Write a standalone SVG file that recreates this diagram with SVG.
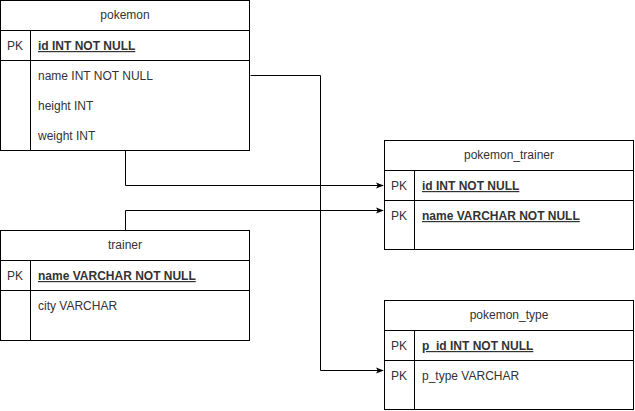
<svg xmlns="http://www.w3.org/2000/svg" width="635" height="411" viewBox="0 0 635 411">
<defs>
<marker id="arr" viewBox="0 0 10 10" refX="9" refY="5" markerWidth="8" markerHeight="8" markerUnits="userSpaceOnUse" orient="auto">
<path d="M0,1 L10,5 L0,9 L2.5,5 Z" fill="#000"/>
</marker>
</defs>
<style>
.box{fill:#fff;stroke:#000;stroke-width:1}
.ln{stroke:#000;stroke-width:1;fill:none}
text{font-family:"Liberation Sans",Arial,sans-serif;font-size:12px;fill:#333}
.h{text-anchor:middle}
.pk{font-weight:bold;text-decoration:underline}
.c{stroke:#000;stroke-width:1;fill:none;marker-end:url(#arr)}
</style>
<rect width="635" height="411" fill="#fff"/>
<g id="connectors">
<path class="c" d="M125.5,150.5 V185.5 H383"/>
<path class="c" d="M250.5,75.5 H320.5 V370.5 H383"/>
<path class="c" d="M125.5,230.5 V210.5 H383"/>
</g>
<g id="pokemon">
<rect class="box" x="0.5" y="0.5" width="249" height="150"/>
<path class="ln" d="M0.5,30.5 H249.5 M0.5,60.5 H249.5 M30.5,30.5 V150.5"/>
<text class="h" x="125" y="19">pokemon</text>
<text x="7" y="50">PK</text>
<text class="pk" x="38" y="50">id INT NOT NULL</text>
<text x="38" y="80">name INT NOT NULL</text>
<text x="38" y="110">height INT</text>
<text x="38" y="140">weight INT</text>
</g>
<g id="trainer">
<rect class="box" x="0.5" y="230.5" width="249" height="110"/>
<path class="ln" d="M0.5,260.5 H249.5 M0.5,290.5 H249.5 M30.5,260.5 V340.5"/>
<text class="h" x="125" y="249">trainer</text>
<text x="7" y="280">PK</text>
<text class="pk" x="38" y="280">name VARCHAR NOT NULL</text>
<text x="38" y="310">city VARCHAR</text>
</g>
<g id="pokemon_trainer">
<rect class="box" x="384.5" y="140.5" width="249" height="109"/>
<path class="ln" d="M384.5,170.5 H633.5 M384.5,200.5 H633.5 M414.5,170.5 V249.5"/>
<text class="h" x="509" y="159">pokemon_trainer</text>
<text x="391" y="190">PK</text>
<text class="pk" x="422" y="190">id INT NOT NULL</text>
<text x="391" y="220">PK</text>
<text class="pk" x="422" y="220">name VARCHAR NOT NULL</text>
</g>
<g id="pokemon_type">
<rect class="box" x="384.5" y="300.5" width="249" height="109"/>
<path class="ln" d="M384.5,330.5 H633.5 M384.5,360.5 H633.5 M414.5,330.5 V409.5"/>
<text class="h" x="509" y="319">pokemon_type</text>
<text x="391" y="350">PK</text>
<text class="pk" x="422" y="350">p_id INT NOT NULL</text>
<text x="391" y="380">PK</text>
<text x="422" y="380">p_type VARCHAR</text>
</g>
</svg>
